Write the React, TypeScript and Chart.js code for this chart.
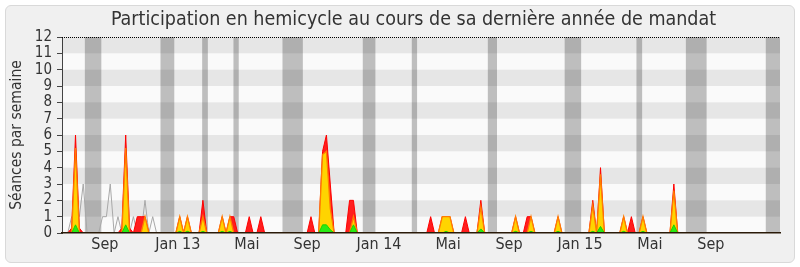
import React, { useEffect, useRef } from 'react';
import { Chart, registerables } from 'chart.js';

Chart.register(...registerables);

const FONT = "'DejaVu Sans Condensed', 'DejaVu Sans', sans-serif";

const TITLE = 'Participation en hemicycle au cours de sa dernière année de mandat';
const Y_TITLE = 'Séances par semaine';

// x positions (in weeks from the first week) of the month labels
const tickWeeks = [10.6, 29.5, 47.4, 63.0, 81.6, 99.5, 115.3, 133.7, 151.8, 167.6];
const tickLabels = ['Sep', 'Jan 13', 'Mai', 'Sep', 'Jan 14', 'Mai', 'Sep', 'Jan 15', 'Mai', 'Sep'];

// parliamentary breaks, as [start week, end week]
const vacationWeeks: [number, number][] = [
  [5.5, 9.6], [25.1, 28.5], [35.9, 37.2], [44.0, 45.2], [56.7, 61.8], [77.5, 80.6],
  [90.2, 91.4], [109.9, 112.1], [129.8, 133.9], [148.4, 149.7], [161.2, 166.4], [181.9, 185.5],
];

// weekly values (186 weeks)
const presences = [
  0,0,0.3,6,0.3,0,0,0,0,0,
  0,0,0,0,0,0.3,6,0.3,0,1,
  1,1,0,0,0,0,0,0,0,0,
  1,0,1,0,0,0,2,0,0,0,
  0,1,0,1,1,0,0,0,1,0,
  0,1,0,0,0,0,0,0,0,0,
  0,0,0,0,1,0,0,5,6,3,
  0,0,0,0,2,2,0,0,0,0,
  0,0,0,0,0,0,0,0,0,0,
  0,0,0,0,0,1,0,0,1,1,
  1,0,0,0,1,0,0,0,2,0,
  0,0,0,0,0,0,0,1,0,0,
  1,1,0,0,0,0,0,0,1,0,
  0,0,0,0,0,0,0,2,0,4,
  0,0,0,0,0,1,0,1,0,0,
  1,0,0,0,0,0,0,0,3,0,
  0,0,0,0,0,0,0,0,0,0,
  0,0,0,0,0,0,0,0,0,0,
  0,0,0,0,0,0,
];

const interventions = [
  0,0,0,5.2,0,0,0,0,0,0,
  0,0,0,0,0,0,5.2,0,0,0,
  0,1,0,0,0,0,0,0,0,0,
  1,0,1,0,0,0,1,0,0,0,
  0,1,0,1,0,0,0,0,0,0,
  0,0,0,0,0,0,0,0,0,0,
  0,0,0,0,0,0,0,4.8,5,1.5,
  0,0,0,0,0,1,0,0,0,0,
  0,0,0,0,0,0,0,0,0,0,
  0,0,0,0,0,0,0,0,1,1,
  1,0,0,0,0,0,0,0,1.6,0,
  0,0,0,0,0,0,0,1,0,0,
  0,1,0,0,0,0,0,0,1,0,
  0,0,0,0,0,0,0,1.7,0,3.6,
  0,0,0,0,0,1,0,0,0,0,
  1,0,0,0,0,0,0,0,2.6,0,
  0,0,0,0,0,0,0,0,0,0,
  0,0,0,0,0,0,0,0,0,0,
  0,0,0,0,0,0,
];

const questions = [
  0,0,0,0.5,0,0,0,0,0,0,
  0,0,0,0,0,0,0.5,0,0,0,
  0,0,0,0,0,0,0,0,0,0,
  0.1,0,0.1,0,0,0,0.1,0,0,0,
  0,0.1,0,0.1,0,0,0,0,0,0,
  0,0,0,0,0,0,0,0,0,0,
  0,0,0,0,0,0,0,0.5,0.5,0.2,
  0,0,0,0,0,0.5,0,0,0,0,
  0,0,0,0,0,0,0,0,0,0,
  0,0,0,0,0,0,0,0,0,0.1,
  0,0,0,0,0,0,0,0,0.25,0,
  0,0,0,0,0,0,0,0.1,0,0,
  0,0.1,0,0,0,0,0,0,0.1,0,
  0,0,0,0,0,0,0,0.1,0,0.4,
  0,0,0,0,0,0.1,0,0,0,0,
  0.1,0,0,0,0,0,0,0,0.5,0,
  0,0,0,0,0,0,0,0,0,0,
  0,0,0,0,0,0,0,0,0,0,
  0,0,0,0,0,0,
];

const mediane = [
  0,0,1,1,1,3,0,0,0,0,
  1,1,3,0,1,0,0,0,1,0,
  0,2,0,1,0,0,0,0,0,0,
  0,0,0,0,0,0,0,0,0,0,
  0,0,0,0,0,0,0,0,0,0,
  0,0,0,0,0,0,0,0,0,0,
  0,0,0,0,0,0,0,0,0,0,
  0,0,0,0,0,0,0,0,0,0,
  0,0,0,0,0,0,0,0,0,0,
  0,0,0,0,0,0,0,0,0,0,
  0,0,0,0,0,0,0,0,0,0,
  0,0,0,0,0,0,0,0,0,0,
  0,0,0,0,0,0,0,0,0,0,
  0,0,0,0,0,0,0,0,0,0,
  0,0,0,0,0,0,0,0,0,0,
  0,0,0,0,0,0,0,0,0,0,
  0,0,0,0,0,0,0,0,0,0,
  0,0,0,0,0,0,0,0,0,0,
  0,0,0,0,0,0,
];

const yBands: [number, number][] = [[1, 2], [3, 4], [5, 6], [7, 8], [9, 10], [11, 12]];

const toXY = (arr: number[]) => arr.map((v, i) => ({ x: i, y: v }));

const bandsPlugin = {
  id: 'bands',
  beforeDraw(chart: any) {
    const { ctx, chartArea: a } = chart;
    ctx.save();
    ctx.fillStyle = '#fafafa';
    ctx.fillRect(a.left, a.top, a.right - a.left, a.bottom - a.top);
    ctx.restore();
  },
  afterDatasetDraw(chart: any, args: any) {
    if (args.meta.type !== 'bar') return;
    const { ctx, chartArea: a, scales } = chart;
    const y = scales.y;
    ctx.save();
    ctx.fillStyle = 'rgba(0,0,0,0.08)';
    for (const [lo, hi] of yBands) {
      const t = y.getPixelForValue(hi);
      const b = y.getPixelForValue(lo);
      ctx.fillRect(a.left, t, a.right - a.left, b - t);
    }
    ctx.restore();
  },
  afterDatasetsDraw(chart: any) {
    const { ctx, chartArea: a, scales } = chart;
    const py = Math.round(scales.y.getPixelForValue(12)) + 0.5;
    ctx.save();
    ctx.strokeStyle = '#000';
    ctx.lineWidth = 1;
    ctx.setLineDash([1, 1]);
    ctx.beginPath();
    ctx.moveTo(a.left, py);
    ctx.lineTo(a.right, py);
    ctx.stroke();
    ctx.restore();
  },
  afterDraw(chart: any) {
    // chart title, centred a little left of the plot area's middle, as in the original
    const { ctx, chartArea: a } = chart;
    ctx.save();
    ctx.font = `19.5px ${FONT}`;
    ctx.fillStyle = '#333';
    ctx.textAlign = 'center';
    ctx.textBaseline = 'middle';
    ctx.fillText(TITLE, (a.left + a.right) / 2 - 7.5, a.top - 17.3);
    ctx.restore();
  },
};

export default function App() {
  const ref = useRef<HTMLCanvasElement>(null);

  useEffect(() => {
    document.body.style.margin = '0';
    const chart = new Chart(ref.current as HTMLCanvasElement, {
      type: 'line',
      data: {
        datasets: [
          {
            type: 'bar',
            indexAxis: 'y',
            xAxisID: 'x',
            yAxisID: 'yv',
            data: vacationWeeks.map(([s, e]) => ({ x: [s, e], y: 'v' })),
            backgroundColor: '#bebebe',
            borderWidth: 0,
            barPercentage: 1,
            categoryPercentage: 1,
            order: 10,
          } as any,
          {
            data: toXY(mediane),
            borderColor: '#a8a8a8',
            borderWidth: 1,
            fill: false,
            pointRadius: 0,
            tension: 0,
            yAxisID: 'y',
            order: 4,
          },
          {
            data: toXY(presences),
            borderColor: 'rgb(255,0,0)',
            backgroundColor: 'rgb(255,30,30)',
            borderWidth: 1,
            fill: 'origin',
            pointRadius: 0,
            tension: 0,
            yAxisID: 'y',
            order: 3,
          },
          {
            data: toXY(interventions),
            borderColor: 'rgb(255,125,0)',
            backgroundColor: 'rgb(255,212,0)',
            borderWidth: 1.3,
            fill: 'origin',
            pointRadius: 0,
            tension: 0,
            yAxisID: 'y',
            order: 2,
          },
          {
            data: toXY(questions),
            borderColor: 'rgb(30,210,0)',
            backgroundColor: 'rgb(40,235,20)',
            borderWidth: 1,
            fill: 'origin',
            pointRadius: 0,
            tension: 0,
            yAxisID: 'y',
            order: 1,
          },
        ],
      },
      options: {
        responsive: false,
        maintainAspectRatio: false,
        animation: false,
        devicePixelRatio: 1,
        events: [],
        layout: { padding: { left: 0, right: 20, top: 37, bottom: 0 } },
        plugins: {
          legend: { display: false },
          tooltip: { enabled: false },
          title: { display: false },
        },
        scales: {
          x: {
            type: 'linear',
            min: -0.5,
            max: 185.5,
            afterFit: (s: any) => { s.height = 34; },
            afterBuildTicks: (s: any) => { s.ticks = tickWeeks.map((v) => ({ value: v })); },
            ticks: {
              autoSkip: false,
              maxRotation: 0,
              padding: 2,
              color: '#333',
              font: { family: FONT, size: 16 },
              callback: (_v: any, i: number) => tickLabels[i],
            },
            grid: { display: true, drawOnChartArea: false, drawTicks: false },
            border: { display: true, color: '#2a1a08', width: 1.5, z: 1 },
          },
          y: {
            type: 'linear',
            min: 0,
            max: 12,
            afterFit: (s: any) => { s.width = 62; },
            ticks: {
              stepSize: 1,
              autoSkip: false,
              padding: 5,
              color: '#333',
              font: { family: FONT, size: 15 },
            },
            grid: { display: true, drawOnChartArea: false, drawTicks: true, tickLength: 5, tickColor: '#444' },
            border: { display: true, color: '#444' },
            title: {
              display: true,
              text: Y_TITLE,
              color: '#333',
              font: { family: FONT, size: 15.5 },
              padding: { top: 8, bottom: 0 },
            },
          },
          yv: {
            type: 'category',
            axis: 'y',
            labels: ['v'],
            display: false,
            offset: true,
          } as any,
        },
      },
      plugins: [bandsPlugin],
    } as any);
    return () => chart.destroy();
  }, []);

  return (
    <div style={{ position: 'relative', width: 800, height: 267, background: '#ffffff', overflow: 'hidden' }}>
      <div
        style={{
          position: 'absolute', left: 5, top: 5, width: 790, height: 258, boxSizing: 'border-box',
          border: '1px solid #d9d9d9', borderRadius: 6, background: '#f0f0f0',
        }}
      />
      <canvas ref={ref} width={800} height={267} style={{ position: 'absolute', left: 0, top: 0, width: 800, height: 267 }} />
    </div>
  );
}
